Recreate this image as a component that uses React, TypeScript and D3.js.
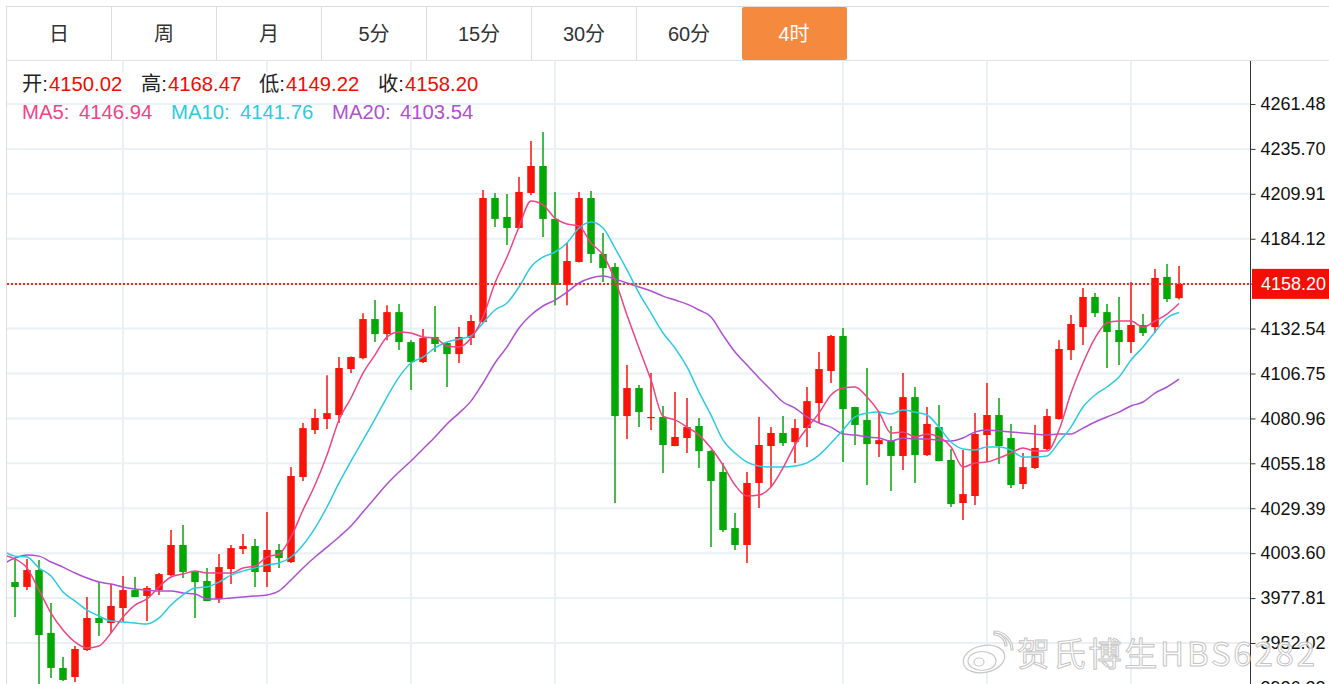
import * as d3 from "d3";
import React, { useEffect, useRef } from "react";

const tabs = ["日", "周", "月", "5分", "15分", "30分", "60分", "4时"];
const activeTab = "4时";

const opens = [
  3987.0,3984.2,3993.9,3957.8,3937.7,3932.5,3948.0,3966.4,3963.5,3972.1,
  3982.4,3979.0,3982.4,3991.0,4008.3,3992.8,3987.6,3977.3,3994.5,4006.0,
  4007.7,3992.8,4005.4,3998.5,4047.3,4074.3,4080.6,4082.9,4109.3,4115.6,
  4138.0,4129.4,4142.0,4124.8,4113.3,4127.7,4124.3,4117.9,4127.1,4136.3,
  4207.5,4196.6,4190.3,4210.4,4225.9,4195.5,4157.6,4170.8,4207.5,4175.4,
  4167.9,4082.3,4098.4,4081.2,4081.8,4065.1,4069.7,4076.6,4062.2,4050.2,
  4018.0,4008.3,4043.9,4065.1,4072.6,4067.4,4075.4,4089.8,4108.2,4128.3,
  4087.5,4080.1,4066.2,4068.0,4059.4,4093.2,4059.9,4076.0,4057.1,4032.4,
  4036.4,4071.4,4082.9,4069.7,4043.3,4052.5,4063.4,4080.6,4120.2,4133.4,
  4150.7,4142.0,4131.7,4124.8,4134.6,4133.4,4162.2,4150.02,
];
const closes = [
  3984.2,3993.9,3956.6,3937.7,3930.8,3948.6,3966.4,3963.5,3973.3,3982.4,
  3978.4,3983.6,3991.6,4008.3,3992.8,3987.0,3976.1,3995.6,4006.5,4007.7,
  3992.8,4005.4,4000.8,4047.9,4075.4,4081.2,4084.0,4109.9,4116.2,4138.0,
  4129.4,4142.0,4124.8,4113.3,4127.1,4123.7,4117.9,4127.7,4136.9,4207.5,
  4195.5,4190.3,4211.0,4225.9,4195.5,4157.6,4171.3,4207.5,4175.4,4167.3,
  4082.3,4098.4,4084.6,4081.8,4065.7,4070.3,4076.0,4062.2,4045.0,4016.9,
  4008.3,4043.9,4065.7,4072.6,4066.8,4075.4,4090.9,4109.3,4128.3,4086.3,
  4077.2,4066.2,4068.5,4059.4,4093.2,4059.9,4077.8,4056.5,4031.8,4037.5,
  4072.0,4082.9,4065.1,4042.7,4053.0,4064.0,4082.3,4120.8,4135.2,4150.7,
  4141.4,4130.6,4124.8,4134.6,4130.0,4161.6,4149.5,4158.20,
];
const highs = [
  4000.8,4000.2,3999.7,3975.0,3944.0,3950.3,3978.4,3987.0,3985.9,3990.5,
  3989.9,3984.8,3992.2,4016.9,4019.8,3993.3,3995.1,4003.1,4008.3,4014.6,
  4011.7,4027.2,4008.9,4053.0,4078.3,4086.3,4105.8,4116.2,4116.5,4141.4,
  4148.9,4146.0,4146.6,4125.9,4132.3,4145.5,4124.8,4133.4,4140.3,4212.1,
  4210.4,4209.8,4219.6,4240.2,4245.4,4211.0,4181.7,4211.0,4211.5,4187.4,
  4170.2,4111.6,4100.1,4107.0,4088.1,4096.1,4092.7,4081.2,4062.8,4055.4,
  4026.6,4050.2,4081.8,4076.0,4082.3,4080.6,4099.0,4119.1,4128.8,4132.9,
  4087.6,4109.9,4084.0,4076.6,4107.0,4099.0,4087.5,4088.7,4063.4,4062.8,
  4084.0,4101.3,4092.7,4077.8,4061.1,4077.2,4086.3,4125.9,4140.3,4155.8,
  4152.9,4146.6,4150.7,4159.3,4140.9,4166.7,4169.6,4168.47,
];
const lows = [
  3966.9,3982.4,3928.5,3931.9,3930.2,3929.6,3947.4,3956.0,3957.8,3964.1,
  3978.4,3964.6,3979.6,3990.5,3989.3,3966.4,3976.1,3975.0,3985.9,4003.1,
  3984.2,3984.2,3995.1,3997.9,4045.0,4072.0,4074.9,4078.3,4107.0,4115.0,
  4124.8,4125.9,4120.2,4097.3,4112.8,4119.1,4099.0,4112.8,4123.1,4135.8,
  4190.9,4180.5,4190.0,4209.2,4185.1,4146.0,4146.0,4170.5,4170.2,4159.3,
  4032.4,4069.1,4076.0,4074.3,4049.6,4065.0,4061.1,4052.5,4007.1,4015.7,
  4005.4,3997.9,4029.5,4041.6,4065.1,4055.4,4064.5,4078.3,4101.3,4055.9,
  4065.7,4042.7,4058.8,4039.3,4051.3,4043.9,4059.4,4056.3,4030.1,4022.6,
  4031.2,4055.9,4054.8,4041.0,4040.4,4051.9,4062.8,4080.4,4114.5,4123.1,
  4139.2,4109.9,4111.6,4118.5,4128.3,4130.0,4147.8,4149.22,
];

// the moving averages start one bar before the first visible candle
const ma5 = [
  4002.5,4000.2,3995.1,3982.4,3969.2,3959.5,3952.6,3949.1,3950.3,3957.8,3966.9,
  3973.8,3977.3,3984.2,3989.9,3991.6,3993.3,3992.2,3992.2,3992.2,3995.1,
  3996.2,4001.4,4003.1,4012.9,4028.4,4042.7,4059.9,4080.1,4092.7,4107.0,
  4117.4,4127.7,4130.6,4130.0,4127.7,4127.1,4122.5,4122.0,4127.1,4139.2,
  4158.7,4173.6,4190.9,4205.8,4203.5,4196.0,4192.6,4191.4,4181.7,4174.8,
  4160.4,4140.3,4121.4,4103.0,4082.3,4080.1,4076.0,4071.4,4064.0,4054.2,
  4042.7,4036.4,4037.0,4041.6,4052.5,4065.7,4075.4,4084.0,4094.4,4098.4,
  4099.0,4093.2,4084.6,4072.6,4073.2,4070.3,4072.0,4070.3,4064.5,4053.0,
  4055.4,4055.9,4058.2,4061.1,4064.0,4062.2,4062.2,4074.3,4095.5,4112.8,
  4127.1,4135.8,4136.9,4136.9,4133.4,4136.9,4140.9,4146.94,
];
const ma10 = [
  4004.8,4001.9,4001.4,3995.1,3990.5,3981.3,3976.1,3970.9,3967.5,3964.6,3964.1,
  3963.5,3962.9,3966.4,3973.8,3979.6,3983.6,3984.2,3987.0,3991.0,3993.3,
  3995.1,3996.8,3997.9,4001.4,4008.3,4018.0,4030.1,4043.9,4056.5,4068.5,
  4080.6,4093.2,4104.7,4112.8,4116.2,4121.4,4124.8,4126.5,4128.3,4135.8,
  4143.2,4147.2,4156.4,4167.9,4173.6,4176.5,4181.7,4190.3,4193.7,4190.3,
  4178.8,4166.2,4152.9,4141.4,4130.0,4121.4,4110.5,4096.1,4082.9,4068.5,
  4061.1,4055.9,4053.6,4053.0,4053.0,4053.6,4055.4,4059.9,4066.8,4074.3,
  4081.8,4084.0,4084.6,4083.5,4085.8,4084.6,4082.9,4076.0,4067.4,4063.4,
  4062.8,4064.5,4064.5,4062.8,4058.8,4058.8,4059.4,4067.4,4076.0,4087.5,
  4094.4,4099.0,4104.7,4114.5,4122.0,4130.6,4138.6,4141.76,
];
const ma20 = [
  3997.4,4000.8,4002.5,4001.9,3998.5,3995.6,3992.2,3989.3,3987.0,3985.9,3984.2,
  3983.0,3982.4,3981.9,3981.9,3980.7,3980.2,3977.3,3977.3,3977.9,3978.4,
  3979.0,3979.6,3981.9,3988.2,3995.1,4001.4,4007.1,4012.9,4019.2,4027.2,
  4035.3,4043.3,4050.2,4056.5,4063.4,4070.3,4077.8,4084.0,4090.9,4101.3,
  4112.8,4122.0,4132.9,4140.3,4145.5,4148.9,4153.5,4158.7,4161.6,4162.7,
  4161.0,4158.7,4156.4,4154.1,4151.2,4148.9,4146.6,4143.2,4139.2,4128.8,
  4119.1,4111.6,4104.2,4097.3,4090.4,4086.9,4081.8,4078.3,4076.0,4072.0,
  4071.4,4070.3,4069.7,4068.0,4069.7,4069.1,4069.1,4068.5,4068.0,4069.7,
  4073.2,4074.3,4073.7,4073.2,4072.6,4072.0,4071.4,4072.0,4072.0,4075.4,
  4078.9,4081.8,4084.6,4088.1,4090.4,4095.5,4099.0,4103.54,
];

const priceTicks = [
  4261.48, 4235.7, 4209.91, 4184.12, 4158.33, 4132.54, 4106.75,
  4080.96, 4055.18, 4029.39, 4003.6, 3977.81, 3952.02, 3926.23,
];
const gridBars = [9, 21, 33, 45, 69, 81, 93];
const lastPrice = 4158.2;

const ohlcLabels = ["开:", "高:", "低:", "收:"];
const ohlcValues = ["4150.02", "4168.47", "4149.22", "4158.20"];
const maLabels = ["MA5:", "MA10:", "MA20:"];
const maValues = ["4146.94", "4141.76", "4103.54"];

const RED = "#f81408";
const GREEN = "#04a804";
const PINK = "#ef4486";
const CYAN = "#2bcbe2";
const PURPLE = "#ae50d0";
const FONT = '"Liberation Sans", "Noto Sans CJK SC", sans-serif';

export default function App() {
  const svgRef = useRef<SVGSVGElement | null>(null);

  useEffect(() => {
    if (!svgRef.current) return;
    const svg = d3.select(svgRef.current);
    svg.selectAll("*").remove();

    const x = d3.scaleLinear().domain([0, 97]).range([15, 1179]);
    const y = d3.scaleLinear().domain([4261.48, 3952.02]).range([104, 643]);

    svg.append("rect").attr("width", 1329).attr("height", 684).attr("fill", "#fff");

    svg.append("clipPath").attr("id", "plot")
      .append("rect").attr("x", 7).attr("y", 61).attr("width", 1243).attr("height", 623);

    // grid
    const grid = svg.append("g").attr("stroke", "#e9f0f6").attr("stroke-width", 2);
    grid.selectAll("line.h").data(priceTicks).enter().append("line").attr("class", "h")
      .attr("x1", 7).attr("x2", 1250)
      .attr("y1", (d) => y(d)).attr("y2", (d) => y(d));
    grid.selectAll("line.v").data(gridBars).enter().append("line").attr("class", "v")
      .attr("x1", (d) => x(d)).attr("x2", (d) => x(d))
      .attr("y1", 61).attr("y2", 684);

    svg.append("line").attr("x1", 6.5).attr("x2", 6.5).attr("y1", 61).attr("y2", 684)
      .attr("stroke", "#dddddd");

    // tabs
    const tabX = d3.scaleBand().domain(tabs).range([6, 846]);
    svg.append("line").attr("x1", 6).attr("x2", 1329).attr("y1", 6.5).attr("y2", 6.5).attr("stroke", "#dddddd");
    svg.append("line").attr("x1", 6).attr("x2", 1329).attr("y1", 60.5).attr("y2", 60.5).attr("stroke", "#e2e2e2");
    const tab = svg.append("g").selectAll("g").data(tabs).enter().append("g")
      .attr("transform", (d) => `translate(${tabX(d)},7)`);
    tab.append("rect")
      .attr("x", 1).attr("width", tabX.bandwidth()).attr("height", 53).attr("rx", 2)
      .attr("fill", (d) => (d === activeTab ? "#f58a3f" : "#fff"));
    tab.append("line")
      .attr("x1", 0.5).attr("x2", 0.5).attr("y1", 0).attr("y2", 53)
      .attr("stroke", (d) => (d === activeTab ? "none" : "#dddddd"));
    tab.append("text")
      .attr("x", tabX.bandwidth() / 2 + 0.5).attr("y", 34)
      .attr("text-anchor", "middle")
      .style("font-family", FONT).style("font-size", "20px")
      .attr("fill", (d) => (d === activeTab ? "#fff" : "#333"))
      .text((d) => d);

    // candles
    const bars = d3.range(opens.length);
    const plot = svg.append("g").attr("clip-path", "url(#plot)");
    const colorOf = (i: number) => (closes[i] >= opens[i] ? RED : GREEN);
    plot.selectAll("line.wick").data(bars).enter().append("line").attr("class", "wick")
      .attr("x1", (i) => x(i)).attr("x2", (i) => x(i))
      .attr("y1", (i) => y(highs[i])).attr("y2", (i) => y(lows[i]))
      .attr("stroke", colorOf).attr("stroke-width", 1.5);
    plot.selectAll("rect.body").data(bars).enter().append("rect").attr("class", "body")
      .attr("x", (i) => x(i) - 3.75).attr("width", 7.5)
      .attr("y", (i) => y(Math.max(opens[i], closes[i])))
      .attr("height", (i) => Math.max(1.2, Math.abs(y(opens[i]) - y(closes[i]))))
      .attr("fill", colorOf);

    // moving averages
    const line = d3.line<number>()
      .x((_, i) => x(i - 1))
      .y((d) => y(d))
      .curve(d3.curveMonotoneX);
    const series: [number[], string][] = [[ma20, PURPLE], [ma10, CYAN], [ma5, PINK]];
    series.forEach(([values, color]) => {
      plot.append("path").attr("d", line(values)).attr("fill", "none")
        .attr("stroke", color).attr("stroke-width", 1.5);
    });

    // last price line
    svg.append("line")
      .attr("x1", 7).attr("x2", 1250).attr("y1", y(lastPrice)).attr("y2", y(lastPrice))
      .attr("stroke", "#f62a20").attr("stroke-width", 2).attr("stroke-dasharray", "2,2");

    // price axis
    const axis = d3.axisRight(y).tickValues(priceTicks).tickSize(5).tickPadding(5)
      .tickFormat((d) => (d as number).toFixed(2));
    const axisG = svg.append("g").attr("transform", "translate(1250.5,0)").call(axis);
    axisG.select(".domain").remove();
    axisG.selectAll("line").attr("stroke", "#333");
    axisG.selectAll("text")
      .style("font-family", FONT).style("font-size", "18px").attr("fill", "#111");
    svg.append("line").attr("x1", 1250.5).attr("x2", 1250.5).attr("y1", 61).attr("y2", 684)
      .attr("stroke", "#333");

    // last price tag
    svg.append("rect")
      .attr("x", 1252).attr("width", 77).attr("y", y(lastPrice) - 15).attr("height", 30)
      .attr("fill", "#f40f06");
    svg.append("text")
      .attr("x", 1261).attr("y", y(lastPrice) + 6.5)
      .style("font-family", FONT).style("font-size", "18px").attr("fill", "#fff")
      .text(lastPrice.toFixed(2));

    // ohlc + ma readout
    svg.append("rect").attr("x", 20).attr("y", 72).attr("width", 460).attr("height", 31)
      .attr("fill", "#fff").attr("fill-opacity", 0.85);
    const ohlcX = [22, 141, 259, 378];
    const readout = svg.append("g").style("font-family", FONT).style("font-size", "20.3px");
    ohlcLabels.forEach((label, i) => {
      readout.append("text").attr("x", ohlcX[i]).attr("y", 91).attr("fill", "#222").text(label);
      readout.append("text").attr("x", ohlcX[i] + 27).attr("y", 91).attr("fill", "#f00c00").text(ohlcValues[i]);
    });
    const maX = [22, 171, 332];
    const maValueX = [79, 240, 400];
    [PINK, CYAN, PURPLE].forEach((color, i) => {
      readout.append("text").attr("x", maX[i]).attr("y", 119).attr("fill", color).text(maLabels[i]);
      readout.append("text").attr("x", maValueX[i]).attr("y", 119).attr("fill", color).text(maValues[i]);
    });

    // watermark
    const mark = svg.append("g").attr("fill", "none").attr("stroke", "#c8c8c8").attr("stroke-width", 1.2);
    mark.append("ellipse").attr("cx", 984).attr("cy", 659).attr("rx", 21).attr("ry", 13.5)
      .attr("transform", "rotate(-12 984 659)").attr("fill", "#fff").attr("fill-opacity", 0.75);
    mark.append("ellipse").attr("cx", 982).attr("cy", 661).attr("rx", 14).attr("ry", 9.5).attr("fill", "#fff").attr("fill-opacity", 0.6);
    mark.append("ellipse").attr("cx", 979).attr("cy", 662).attr("rx", 5).attr("ry", 4);
    mark.append("path").attr("d", d3.arc()({ innerRadius: 11, outerRadius: 13, startAngle: 0, endAngle: Math.PI / 2 }) as string)
      .attr("transform", "translate(994,646)");
    mark.append("path").attr("d", d3.arc()({ innerRadius: 17, outerRadius: 19, startAngle: 0, endAngle: Math.PI / 2 }) as string)
      .attr("transform", "translate(994,650)");
    svg.append("text")
      .attr("x", 1017).attr("y", 666)
      .attr("textLength", 298).attr("lengthAdjust", "spacing")
      .style("font-family", '"Noto Sans CJK SC", "Liberation Sans", sans-serif').style("font-size", "33px")
      .attr("fill", "#fff").attr("fill-opacity", 0.8)
      .attr("stroke", "#c4c4c4").attr("stroke-width", 1)
      .text("贺氏博生HBS6282");
  }, []);

  return (
    <svg
      ref={svgRef}
      width={1329}
      height={684}
      style={{ position: "absolute", left: 0, top: 0, display: "block" }}
    />
  );
}
